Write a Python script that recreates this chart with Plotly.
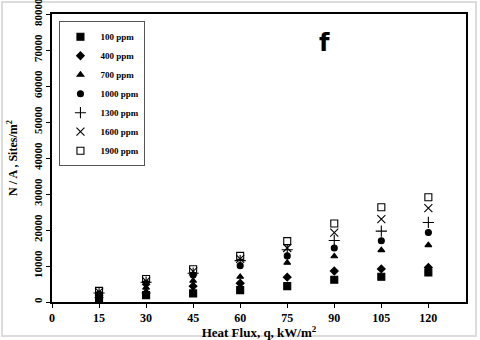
import plotly.graph_objects as go

# heat flux, kW/m2
heat_flux = [15, 30, 45, 60, 75, 90, 105, 120]

# nucleation site density (sites/m2) per concentration
ppm_100 = [900, 1900, 2400, 3300, 4400, 6200, 7000, 8200]
ppm_400 = [1200, 2500, 4400, 5200, 6900, 8600, 9200, 9600]
ppm_700 = [1800, 4000, 5900, 7000, 10900, 12700, 14400, 15800]
ppm_1000 = [2200, 5200, 7500, 10100, 12800, 15000, 17000, 19300]
ppm_1300 = [2500, 5500, 8000, 11500, 14500, 17100, 19700, 22100]
ppm_1600 = [2800, 5800, 8500, 12000, 15000, 19300, 23000, 26100]
ppm_1900 = [3100, 6400, 9100, 12800, 16900, 21800, 26300, 29080]

series = [
    ("100 ppm", ppm_100, "square"),
    ("400 ppm", ppm_400, "diamond"),
    ("700 ppm", ppm_700, "triangle-up"),
    ("1000 ppm", ppm_1000, "circle"),
    ("1300 ppm", ppm_1300, "cross-thin-open"),
    ("1600 ppm", ppm_1600, "x-thin-open"),
    ("1900 ppm", ppm_1900, "square-open"),
]

x_ticks = [0, 15, 30, 45, 60, 75, 90, 105, 120]
y_ticks = [0, 10000, 20000, 30000, 40000, 50000, 60000, 70000, 80000]
y_tick_text = [str(v) for v in y_ticks]

FONT = "Liberation Serif"

fig = go.Figure()
for name, vals, sym in series:
    size = 7 if sym in ("square", "square-open") else 6
    if sym in ("cross-thin-open", "x-thin-open"):
        size = 8
    fig.add_trace(go.Scatter(
        x=heat_flux, y=vals, mode="markers", name=name,
        marker=dict(symbol=sym, size=size, color="black",
                    line=dict(color="black", width=1.1)),
    ))

axis_common = dict(
    showgrid=False, zeroline=False, showline=True, linecolor="black",
    linewidth=1.5, mirror=True, ticks="outside", ticklen=4, automargin=False,
    ticklabeloverflow="allow", tickcolor="black",
)

fig.update_layout(
    width=480, height=340,
    margin=dict(l=52, r=14, t=14, b=38),
    paper_bgcolor="white", plot_bgcolor="white",
    showlegend=True,
    legend=dict(
        x=0.018, y=0.975, xanchor="left", yanchor="top",
        bordercolor="#555555", borderwidth=1, bgcolor="white",
        font=dict(family=FONT, size=9, color="black", weight="bold"),
        itemwidth=30, tracegroupgap=0,
    ),
    xaxis=dict(
        range=[0, 132], tickvals=x_ticks,
        tickfont=dict(family=FONT, size=12, color="black", weight="bold"),
        title=dict(text="Heat Flux, q, kW/m<sup>2</sup>", standoff=2,
                   font=dict(family=FONT, size=13, color="black", weight="bold")),
        **axis_common,
    ),
    yaxis=dict(
        range=[0, 80000], tickvals=y_ticks, ticktext=y_tick_text, tickangle=-90,
        tickfont=dict(family=FONT, size=11, color="black", weight="bold"),
        title=dict(text="N / A , Sites/m<sup>2</sup>", standoff=12,
                   font=dict(family=FONT, size=12, color="black", weight="bold")),
        **axis_common,
    ),
    annotations=[dict(
        x=87, y=72000, xref="x", yref="y", text="f", showarrow=False,
        font=dict(family="DejaVu Sans", size=24, color="black", weight="bold"),
    )],
    shapes=[dict(
        type="rect", xref="paper", yref="paper",
        x0=-0.1208, x1=1.0242, y0=-0.118, y1=1.0417,
        line=dict(color="#dcdcdc", width=2), layer="below",
    )],
)

# drop the browser's default 8px body margin so the figure sits at the corner
fig.write_html("out.html", config={"displayModeBar": False},
               post_script="document.body.style.margin='0';")
